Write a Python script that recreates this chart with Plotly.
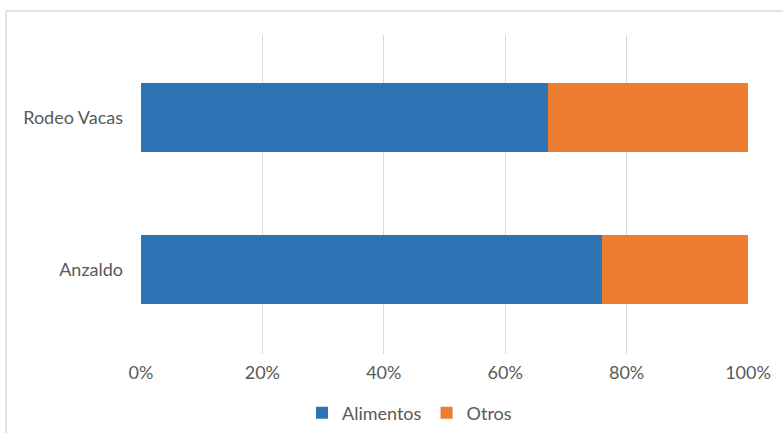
import plotly.graph_objects as go

# Share of spending by community (percent)
communities = ["Anzaldo", "Rodeo Vacas"]
alimentos = [76, 67]
otros = [24, 33]
x_ticks = [0, 20, 40, 60, 80, 100]

TEXT = "#595959"
GRID = "#d9d9d9"
FONT = "Lato"
BAR_W = 0.454

fig = go.Figure()
fig.add_trace(go.Bar(
    y=communities, x=alimentos, name="Alimentos", orientation="h",
    width=BAR_W, marker=dict(color="#2E74B5", line=dict(width=0)),
))
fig.add_trace(go.Bar(
    y=communities, x=otros, name="Otros", orientation="h",
    width=BAR_W, marker=dict(color="#ED7D31", line=dict(width=0)),
))

# Outer chart frame (left and top edges visible)
fig.add_shape(type="line", xref="paper", yref="paper",
              x0=-0.2224, x1=1.2, y0=1.0752, y1=1.0752,
              line=dict(color=GRID, width=1.5))
fig.add_shape(type="line", xref="paper", yref="paper",
              x0=-0.2224, x1=-0.2224, y0=1.0752, y1=-0.4,
              line=dict(color=GRID, width=1.5))

fig.update_layout(
    width=783, height=433,
    barmode="stack",
    margin=dict(l=141, r=35, t=35, b=79, autoexpand=False),
    plot_bgcolor="white", paper_bgcolor="white",
    font=dict(family=FONT, size=18, color=TEXT),
    showlegend=True,
    legend=dict(orientation="h", xref="container", yref="container",
                x=0.523, xanchor="center", y=0.046, yanchor="middle",
                font=dict(family=FONT, size=18, color=TEXT),
                traceorder="normal"),
    xaxis=dict(range=[0, 100], tickvals=x_ticks,
               ticktext=[f"{v}%" for v in x_ticks],
               showgrid=True, gridcolor=GRID, gridwidth=1.2,
               zeroline=False, showline=False, ticks="",
               automargin=False, ticklabelstandoff=6),
    yaxis=dict(categoryorder="array", categoryarray=communities,
               range=[-0.5559, 1.5428], automargin=False,
               showgrid=False, zeroline=False, showline=False, ticks="",
               ticklabelstandoff=17),
)

fig.write_html("out.html")
